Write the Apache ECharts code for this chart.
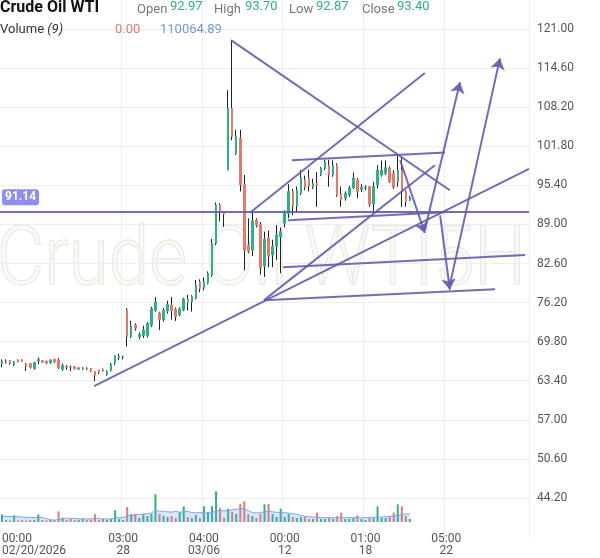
<!DOCTYPE html>
<html>
<head>
<meta charset="utf-8">
<title>Crude Oil WTI</title>
<script src="https://cdn.jsdelivr.net/npm/echarts@6/dist/echarts.min.js"></script>
<style>
  html, body { margin: 0; padding: 0; background: #fff; }
  #chart { width: 600px; height: 558px; }
</style>
</head>
<body>
<div id="chart"></div>
<script>
// slots on the time axis (bars + empty future bars)
const slotCount = 131;
const labelSlots = [0, 30, 50, 70, 90, 110];
const labelTexts = ['00:00\n02/20/2026', '03:00\n28', '04:00\n03/06', '00:00\n12', '01:00\n18', '05:00\n22'];

const opens = [66.2, 66.4, 66.7, 66.1, 66.8, 66.8, 66.1, 66.2, 65.4, 66.6,
  66.7, 66.6, 66.3, 66.9, 66.8, 65.3, 65.8, 65.6, 65.7, 65.3,
  65.3, 65.5, 65.4, 64.9, 65.1, 65.3, 64.4, 65.1, 66.3, 67.2,
  67.3, 75.0, 70.6, 72.5, 70.6, 70.8, 70.8, 72.5, 74.9, 74.5,
  73.4, 74.8, 75.8, 75.1, 74.2, 75.0, 76.8, 76.3, 76.9, 79.6,
  78.6, 79.4, 80.7, 85.9, 92.2, 90.9, 97.9, 108.0, 100.6, 103.1,
  95.5, 85.6, 84.8, 89.7, 89.0, 82.2, 86.8, 84.0, 85.4, 87.0,
  89.2, 90.8, 94.4, 92.0, 94.1, 96.3, 96.6, 95.1, 95.7, 97.1,
  98.2, 98.7, 97.1, 98.7, 94.0, 93.3, 93.8, 95.0, 96.3, 94.7,
  95.0, 95.2, 92.3, 95.5, 97.1, 97.4, 98.2, 97.3, 96.0, 97.9,
  94.4, 92.97];
const closes = [66.6, 66.6, 66.2, 66.5, 66.5, 66.6, 65.8, 65.6, 66.4, 66.9,
  66.4, 66.3, 66.8, 66.5, 65.5, 65.9, 65.6, 65.5, 65.4, 65.5,
  65.5, 65.3, 65.0, 64.3, 64.8, 65.0, 64.9, 66.1, 67.5, 67.4,
  67.4, 70.6, 72.4, 72.0, 71.0, 71.7, 72.8, 75.2, 76.3, 73.4,
  74.9, 75.9, 74.9, 73.9, 75.2, 76.8, 76.2, 77.2, 79.1, 78.5,
  79.6, 81.0, 85.9, 92.2, 91.1, 90.7, 108.0, 103.4, 103.4, 95.5,
  84.8, 84.6, 89.6, 88.9, 81.9, 86.6, 83.8, 85.4, 87.3, 87.8,
  90.8, 94.4, 92.0, 94.6, 96.6, 95.0, 95.3, 95.7, 95.4, 98.2,
  99.3, 97.1, 98.7, 93.8, 93.0, 94.1, 95.0, 96.6, 94.4, 95.1,
  95.1, 92.3, 95.2, 97.9, 97.9, 98.3, 96.0, 95.1, 97.9, 94.4,
  92.7, 93.40];
const lows = [65.6, 66.2, 66.0, 65.8, 66.4, 66.5, 65.0, 65.4, 65.2, 66.1,
  66.3, 66.1, 66.2, 66.3, 65.3, 65.0, 65.2, 65.0, 65.2, 65.2,
  65.2, 65.1, 64.8, 63.3, 64.5, 64.9, 64.2, 64.9, 66.0, 66.8,
  66.9, 69.0, 70.4, 71.6, 70.2, 70.4, 70.5, 72.2, 74.7, 71.7,
  73.1, 74.4, 73.4, 73.2, 74.0, 74.8, 74.9, 74.7, 76.7, 77.9,
  78.2, 79.2, 80.4, 85.6, 89.5, 88.6, 97.9, 102.8, 100.4, 94.4,
  81.5, 84.3, 83.8, 88.5, 80.8, 80.4, 82.0, 82.0, 83.2, 81.0,
  88.5, 90.0, 90.5, 91.0, 93.8, 94.6, 94.4, 94.8, 91.9, 96.9,
  97.9, 95.2, 96.8, 93.5, 91.9, 92.9, 93.5, 94.8, 93.3, 94.3,
  94.6, 91.9, 91.1, 94.9, 96.8, 97.1, 95.8, 94.8, 95.2, 91.9,
  91.9, 92.87];
const highs = [66.9, 66.9, 66.8, 66.6, 66.9, 66.9, 66.3, 66.3, 66.5, 67.2,
  66.8, 66.7, 66.9, 67.0, 67.1, 66.2, 66.0, 65.9, 65.8, 65.6,
  65.6, 65.6, 65.5, 65.0, 65.2, 65.4, 65.1, 66.3, 67.6, 67.8,
  67.5, 75.3, 73.2, 72.8, 71.3, 72.4, 73.0, 75.5, 77.1, 74.7,
  75.3, 76.5, 77.1, 75.4, 75.4, 77.0, 77.5, 77.4, 79.9, 80.0,
  80.3, 81.3, 86.6, 92.6, 92.5, 91.0, 111.0, 119.2, 104.5, 104.5,
  97.1, 90.0, 91.2, 90.0, 89.4, 87.8, 88.0, 86.5, 88.9, 88.5,
  91.3, 95.6, 94.8, 95.2, 97.9, 97.0, 98.0, 96.5, 97.6, 98.4,
  99.6, 99.6, 99.5, 99.0, 95.2, 94.4, 95.3, 97.5, 96.6, 95.6,
  95.4, 95.3, 96.0, 98.7, 99.5, 99.5, 98.5, 97.9, 100.4, 100.1,
  94.6, 93.70];
const volumes = [101000, 26000, 20000, 88000, 20000, 26000, 20000, 26000, 26000, 101000,
  26000, 20000, 26000, 26000, 141000, 57000, 26000, 40000, 26000, 26000,
  40000, 26000, 26000, 101000, 26000, 40000, 26000, 40000, 154000, 40000,
  26000, 198000, 105000, 105000, 53000, 105000, 79000, 105000, 366000, 105000,
  79000, 66000, 79000, 53000, 132000, 207000, 66000, 53000, 92000, 53000,
  207000, 132000, 207000, 405000, 185000, 53000, 172000, 132000, 105000, 238000,
  273000, 105000, 79000, 53000, 105000, 234000, 238000, 105000, 66000, 176000,
  66000, 105000, 66000, 53000, 66000, 66000, 40000, 40000, 123000, 40000,
  40000, 53000, 40000, 79000, 123000, 40000, 40000, 53000, 88000, 40000,
  26000, 53000, 53000, 207000, 53000, 53000, 66000, 123000, 234000, 207000,
  79000, 40000];
const volumeMa = [75000, 75000, 72000, 72000, 70000, 66000, 62000, 60000, 58000, 60000,
  60000, 45000, 30000, 25000, 35000, 45000, 50000, 48000, 45000, 42000,
  42000, 40000, 40000, 50000, 45000, 42000, 40000, 40000, 55000, 58000,
  60000, 80000, 90000, 95000, 100000, 105000, 110000, 120000, 150000, 145000,
  140000, 135000, 130000, 140000, 130000, 135000, 140000, 125000, 120000, 125000,
  120000, 118000, 125000, 145000, 150000, 148000, 150000, 160000, 170000, 175000,
  176000, 150000, 125000, 119000, 125000, 135000, 145000, 135000, 128000, 123000,
  123000, 118000, 110000, 100000, 90000, 75000, 70000, 65000, 60000, 58000,
  57000, 57000, 57000, 57000, 57000, 57000, 57000, 57000, 57000, 57000,
  58000, 60000, 62000, 64000, 66000, 70000, 75000, 80000, 84000, 95000,
  105000, 110064.89];

// hand drawn trend lines: [slot1, price1, slot2, price2]
const trendLines = [
  [22.8, 62.5, 130.5, 98.1],
  [56.7, 119.2, 110.9, 94.6],
  [61.4, 90.9, 104.7, 113.8],
  [64.9, 76.6, 107.2, 98.7],
  [64.9, 76.6, 122.1, 78.4],
  [69.6, 82.0, 129.5, 84.0],
  [71.8, 99.5, 109.7, 100.8],
  [70.8, 89.7, 109.7, 91.0]
];
const arrowLines = [
  [104.7, 88.1, 113.4, 112.3],
  [110.9, 79.1, 123.3, 116.2],
  [98.6, 99.5, 104.7, 87.6],
  [108.5, 90.5, 110.9, 78.3]
];
const hLinePrice = 91.14;
const lastPrice = 93.54;

const upColor = '#2bb287';
const downColor = '#e8776c';
const drawColor = 'rgba(98,92,178,0.9)';

const categories = [];
for (let i = 0; i < slotCount; i++) {
  const j = labelSlots.indexOf(i);
  categories.push(j >= 0 ? labelTexts[j] : '');
}
const wickData = opens.map((o, i) => [o, closes[i], lows[i], highs[i]]);
// bodies only, no wick (wicks are drawn black by the series underneath)
const bodyData = opens.map((o, i) => [o, closes[i], Math.min(o, closes[i]), Math.max(o, closes[i])]);
const volumeData = volumes.map((v, i) => ({
  value: v,
  itemStyle: { color: closes[i] >= opens[i] ? upColor : downColor }
}));
const toSeg = l => ({ coords: [[l[0], l[1]], [l[2], l[3]]] });

const chart = echarts.init(document.getElementById('chart'));
const font = 'Roboto, "Noto Sans", sans-serif';

chart.setOption({
  animation: false,
  textStyle: { fontFamily: font },
  grid: [
    { left: 0, right: 71, top: -10, height: 547, outerBoundsMode: 'none' },
    { left: 0, right: 71, top: 482, height: 40, outerBoundsMode: 'none' }
  ],
  xAxis: [
    {
      type: 'category', gridIndex: 0, data: categories,
      axisLine: { show: false }, axisTick: { show: false }, axisLabel: { show: false },
      splitLine: {
        show: true,
        interval: (i) => i > 0 && labelSlots.includes(i),
        lineStyle: { color: '#eeeeee', width: 1 }
      }
    },
    {
      type: 'category', gridIndex: 1, data: categories,
      axisLine: { show: false }, axisTick: { show: false }, splitLine: { show: false },
      axisLabel: {
        interval: (i) => labelSlots.includes(i),
        color: '#555', fontSize: 12, lineHeight: 12, margin: 11,
        alignMinLabel: 'left', fontFamily: font
      }
    },
    { type: 'value', gridIndex: 0, min: -0.5, max: slotCount - 0.5, show: false }
  ],
  yAxis: [
    {
      type: 'value', gridIndex: 0, position: 'right',
      min: 37.8, max: 127.4, interval: 6.4,
      axisLine: { show: false }, axisTick: { show: false },
      axisLabel: {
        color: '#555', fontSize: 12, margin: 8, showMinLabel: false, showMaxLabel: false,
        formatter: v => v.toFixed(2), fontFamily: font
      },
      splitLine: { lineStyle: { color: '#eeeeee' }, showMinLine: false, showMaxLine: false }
    },
    { type: 'value', gridIndex: 1, min: 0, max: 528000, show: false }
  ],
  graphic: [
    {
      type: 'text', left: -4, top: 222, z: -1, silent: true, scaleX: 0.89,
      style: {
        text: 'Crude Oil WTI5H', font: '300 82px Roboto, sans-serif',
        fill: 'rgba(246,246,240,0.6)', stroke: 'rgba(195,195,175,0.4)', lineWidth: 1.5
      }
    },
    { type: 'text', z: 50, left: 0, top: 0, style: { text: 'Crude Oil WTI', font: 'bold 16px Roboto, sans-serif', fill: '#111' } },
    { type: 'text', z: 50, left: 137, top: 3, style: { text: 'Open', font: '13px Roboto, sans-serif', fill: '#777' } },
    { type: 'text', z: 50, left: 170, top: 0, style: { text: opens[opens.length - 1].toFixed(2), font: '13px Roboto, sans-serif', fill: upColor } },
    { type: 'text', z: 50, left: 214, top: 3, style: { text: 'High', font: '13px Roboto, sans-serif', fill: '#777' } },
    { type: 'text', z: 50, left: 245, top: 0, style: { text: highs[highs.length - 1].toFixed(2), font: '13px Roboto, sans-serif', fill: upColor } },
    { type: 'text', z: 50, left: 289, top: 3, style: { text: 'Low', font: '13px Roboto, sans-serif', fill: '#777' } },
    { type: 'text', z: 50, left: 316, top: 0, style: { text: lows[lows.length - 1].toFixed(2), font: '13px Roboto, sans-serif', fill: upColor } },
    { type: 'text', z: 50, left: 362, top: 3, style: { text: 'Close', font: '13px Roboto, sans-serif', fill: '#777' } },
    { type: 'text', z: 50, left: 397, top: 0, style: { text: closes[closes.length - 1].toFixed(2), font: '13px Roboto, sans-serif', fill: upColor } },
    {
      type: 'text', z: 50, left: 0, top: 23,
      style: {
        text: '{a|Volume }{b|(9)}',
        rich: {
          a: { font: '13px Roboto, sans-serif', fill: '#333' },
          b: { font: 'italic 13px Roboto, sans-serif', fill: '#333' }
        }
      }
    },
    { type: 'text', z: 50, left: 115, top: 23, style: { text: '0.00', font: '13px Roboto, sans-serif', fill: downColor } },
    { type: 'text', z: 50, left: 160, top: 23, style: { text: volumeMa[volumeMa.length - 1].toFixed(2), font: '13px Roboto, sans-serif', fill: '#6f9ad6' } }
  ],
  series: [
    {
      name: 'wicks', type: 'candlestick', xAxisIndex: 0, yAxisIndex: 0,
      data: wickData, barWidth: 1,
      itemStyle: { color: '#222', color0: '#222', borderColor: '#222', borderColor0: '#222', borderWidth: 1 }
    },
    {
      name: 'bodies', type: 'candlestick', xAxisIndex: 0, yAxisIndex: 0,
      data: bodyData, barWidth: 2,
      itemStyle: { color: upColor, color0: downColor, borderColor: upColor, borderColor0: downColor, borderWidth: 1 },
      markLine: {
        silent: true, symbol: ['none', 'none'], animation: false,
        data: [
          {
            yAxis: hLinePrice,
            lineStyle: { color: drawColor, width: 2, type: 'solid' },
            label: {
              show: true, position: 'insideStartTop', formatter: hLinePrice.toFixed(2),
              backgroundColor: '#8f8df0', color: '#fff', fontWeight: 'bold', fontSize: 12,
              padding: [2, 3], borderRadius: 3, distance: [2, 6], fontFamily: font
            }
          },
          {
            yAxis: lastPrice,
            lineStyle: { opacity: 0 },
            label: {
              show: true, position: 'end', formatter: lastPrice.toFixed(2),
              backgroundColor: '#17c46f', color: '#fff', fontSize: 13,
              padding: [2, 17, 2, 17], borderRadius: 2, distance: 3, fontFamily: font
            }
          }
        ]
      }
    },
    {
      name: 'drawings', type: 'lines', coordinateSystem: 'cartesian2d',
      xAxisIndex: 2, yAxisIndex: 0, silent: true, z: 5,
      lineStyle: { color: drawColor, width: 2, opacity: 1 },
      data: trendLines.map(toSeg)
    },
    {
      name: 'arrows', type: 'lines', coordinateSystem: 'cartesian2d',
      xAxisIndex: 2, yAxisIndex: 0, silent: true, z: 5,
      symbol: ['none', 'arrow'], symbolSize: 11,
      lineStyle: { color: drawColor, width: 2, opacity: 1 },
      data: arrowLines.map(toSeg)
    },
    {
      name: 'volume', type: 'bar', xAxisIndex: 1, yAxisIndex: 1,
      data: volumeData, barWidth: 2
    },
    {
      name: 'volume ma', type: 'line', xAxisIndex: 1, yAxisIndex: 1,
      data: volumeMa, symbol: 'none', smooth: false,
      lineStyle: { color: '#7ea6e6', width: 1 },
      areaStyle: { color: 'rgba(120,160,230,0.4)' }
    }
  ]
});
</script>
</body>
</html>
